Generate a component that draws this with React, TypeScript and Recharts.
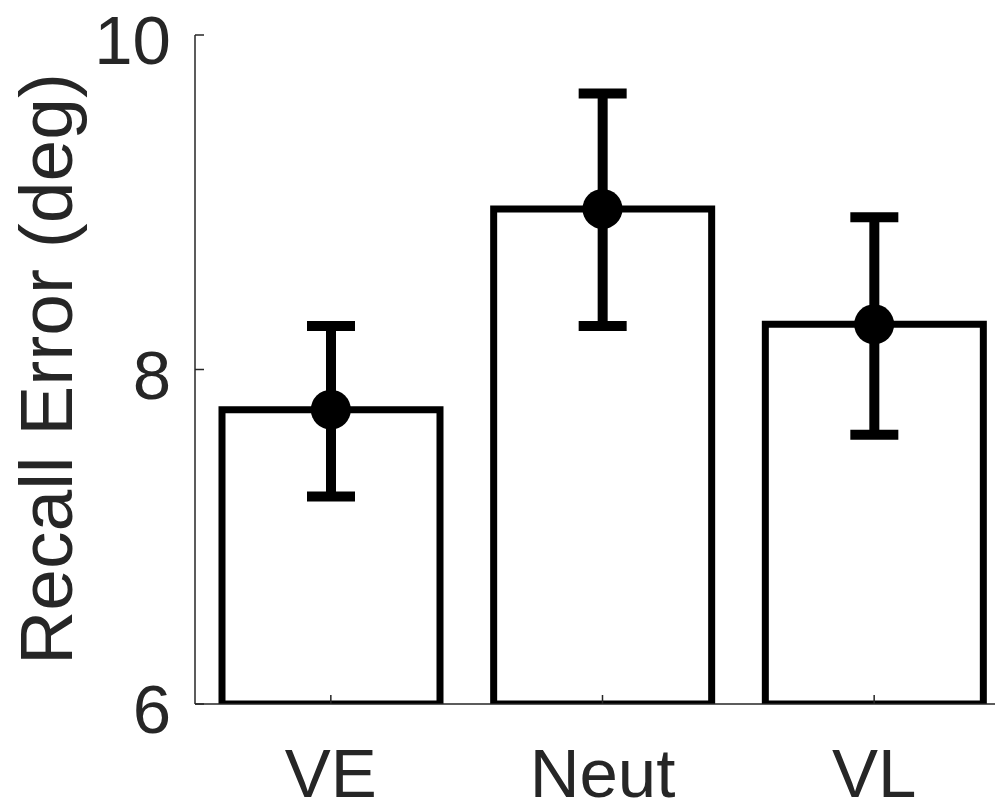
import React from 'react';
import { ComposedChart, Bar, Line, XAxis, YAxis, ErrorBar, Label } from 'recharts';

const categories = ['VE', 'Neut', 'VL'];
const means = [7.76, 8.96, 8.27];
const errLow = [0.52, 0.7, 0.66];
const errHigh = [0.5, 0.69, 0.64];
const yTicks = [6, 8, 10];
const yLabel = 'Recall Error (deg)';

const data = categories.map((c, i) => ({
  name: c,
  mean: means[i],
  err: [errLow[i], errHigh[i]],
}));

const FONT = '"Liberation Sans", Arial, Helvetica, sans-serif';
const TXT = '#262626';

const YTick = (props: any) => {
  const { x, y, payload } = props;
  return (
    <g>
      <line x1={x} y1={y} x2={x + 9} y2={y} stroke={TXT} strokeWidth={1.5} />
      <text x={x - 24} y={y + 29} textAnchor="end" fontSize={69} fontFamily={FONT} fill={TXT}>
        {payload.value}
      </text>
    </g>
  );
};

const XTick = (props: any) => {
  const { x, y, payload } = props;
  return (
    <g>
      <line x1={x} y1={y} x2={x} y2={y - 9} stroke={TXT} strokeWidth={1.5} />
      <text x={x} y={y + 93} textAnchor="middle" fontSize={69} fontFamily={FONT} fill={TXT}>
        {payload.value}
      </text>
    </g>
  );
};

export default function App() {
  return (
    <div style={{ position: 'absolute', left: 0, top: 0, width: 995, height: 804, overflow: 'hidden', background: '#fff' }}>
      <ComposedChart
        width={1010}
        height={804}
        data={data}
        margin={{ top: 35, right: 0, bottom: 0, left: 0 }}
      >
        <XAxis
          dataKey="name"
          height={100}
          axisLine={{ stroke: TXT, strokeWidth: 1.5 }}
          tickLine={false}
          tickSize={0}
          tickMargin={0}
          tick={<XTick />}
          interval={0}
        />
        <YAxis
          type="number"
          domain={[6, 10]}
          ticks={yTicks}
          width={195}
          axisLine={{ stroke: TXT, strokeWidth: 1.5 }}
          tickLine={false}
          tickSize={0}
          tickMargin={0}
          tick={<YTick />}
          allowDataOverflow
        >
          <Label
            content={() => (
              <text
                x={72}
                y={369}
                transform="rotate(-90, 72, 369)"
                textAnchor="middle"
                fontSize={75}
                fontFamily={FONT}
                fill={TXT}
              >
                {yLabel}
              </text>
            )}
          />
        </YAxis>
        <Bar dataKey="mean" fill="#ffffff" stroke="#000000" strokeWidth={7} barSize={218} isAnimationActive={false}>
          <ErrorBar dataKey="err" width={24} strokeWidth={10} stroke="#000000" direction="y" />
        </Bar>
        <Line
          dataKey="mean"
          stroke="none"
          dot={{ r: 20, fill: '#000000', stroke: 'none' }}
          activeDot={false}
          isAnimationActive={false}
        />
      </ComposedChart>
    </div>
  );
}
